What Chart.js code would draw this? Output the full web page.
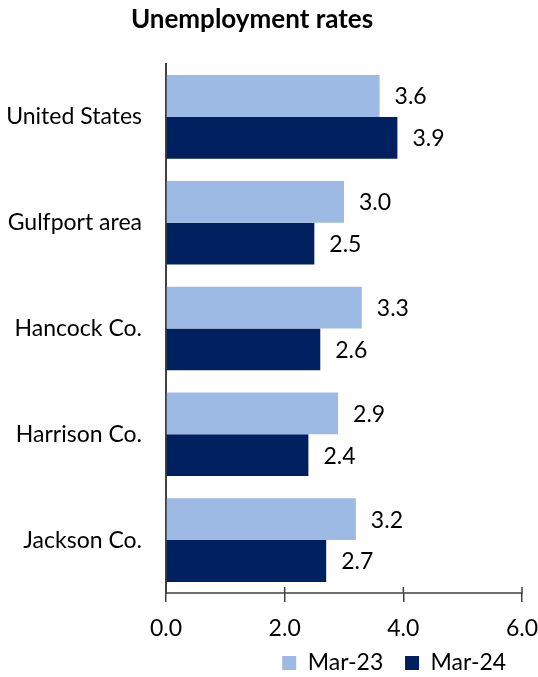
<!DOCTYPE html>
<html>
<head>
<meta charset="utf-8">
<script src="https://cdn.jsdelivr.net/npm/chart.js@4/dist/chart.umd.min.js"></script>
<style>
    html, body { margin: 0; padding: 0; background: #fff; }
    #wrap { width: 538px; height: 677px; }
</style>
</head>
<body>
<div id="wrap"><canvas id="grafica"></canvas></div>
<script>
var categorias = ["United States", "Gulfport area", "Hancock Co.", "Harrison Co.", "Jackson Co."];
var serie1Nombre = "Mar-23";
var serie2Nombre = "Mar-24";
var serie1 = [3.6, 3.0, 3.3, 2.9, 3.2];
var serie2 = [3.9, 2.5, 2.6, 2.4, 2.7];
var ticksX = [0, 2, 4, 6];

var fuente = "Lato, 'Open Sans', sans-serif";

// titulo dibujado a mano para poder moverlo un poco a la izquierda
const tituloPlugin = {
    id: "tituloPlugin",
    afterDraw(chart) {
        const ctx = chart.ctx;
        ctx.save();
        ctx.font = "bold 26px " + fuente;
        ctx.fillStyle = "#000";
        ctx.textAlign = "center";
        ctx.textBaseline = "middle";
        ctx.fillText("Unemployment rates", 252, 20);
        ctx.restore();
    }
};

// linea del eje x con marcas que cruzan la linea (el borde del eje no salia)
const ejeXPlugin = {
    id: "ejeXPlugin",
    afterDraw(chart) {
        const x = chart.scales.x;
        const ctx = chart.ctx;
        ctx.save();
        ctx.strokeStyle = "#404040";
        ctx.lineWidth = 1.5;
        ctx.beginPath();
        ctx.moveTo(x.left - 1, x.top);
        ctx.lineTo(x.right + 0.75, x.top);
        ticksX.forEach(function (v) {
            const px = x.getPixelForValue(v);
            ctx.moveTo(px, x.top - 6);
            ctx.lineTo(px, x.top);
        });
        ctx.stroke();
        ctx.restore();
    }
};

// etiquetas de valor a la derecha de cada barra
const etiquetasPlugin = {
    id: "etiquetasPlugin",
    afterDatasetsDraw(chart) {
        const ctx = chart.ctx;
        ctx.save();
        ctx.font = "23px " + fuente;
        ctx.fillStyle = "#000";
        ctx.textAlign = "left";
        ctx.textBaseline = "middle";
        chart.data.datasets.forEach(function (ds, i) {
            const meta = chart.getDatasetMeta(i);
            meta.data.forEach(function (bar, j) {
                ctx.fillText(ds.data[j].toFixed(1), bar.x + 15, bar.y + 1);
            });
        });
        ctx.restore();
    }
};

const grafica = new Chart(document.getElementById("grafica"), {
    type: "bar",
    data: {
        labels: categorias,
        datasets: [
            {
                label: serie1Nombre,
                data: serie1,
                backgroundColor: "#9dbae4",
                borderWidth: 0,
                categoryPercentage: 0.79,
                barPercentage: 1.0,
            },
            {
                label: serie2Nombre,
                data: serie2,
                backgroundColor: "#002060",
                borderWidth: 0,
                categoryPercentage: 0.79,
                barPercentage: 1.0,
            },
        ],
    },
    options: {
        indexAxis: "y",
        responsive: true,
        maintainAspectRatio: false,
        animation: false,
        layout: { padding: { top: 64, left: 0, right: 0, bottom: -7.5 } },
        plugins: {
            title: { display: false },
            tooltip: { enabled: false },
            legend: {
                position: "bottom",
                align: "end",
                fullSize: false,
                labels: {
                    boxWidth: 14,
                    boxHeight: 14,
                    padding: 10,
                    color: "#000",
                    font: { family: fuente, size: 23 },
                    // espacios al final para separar los items como en el original
                    generateLabels: function (chart) {
                        const items = Chart.defaults.plugins.legend.labels.generateLabels(chart);
                        items[0].text = items[0].text + "  ";
                        items[1].text = items[1].text + " ";
                        return items;
                    },
                },
            },
        },
        scales: {
            x: {
                min: 0,
                max: 6,
                afterBuildTicks: function (scale) {
                    scale.ticks = ticksX.map(function (v) { return { value: v }; });
                },
                afterFit: function (scale) {
                    scale.height = 48.5;
                    scale.paddingLeft = 16;
                    scale.paddingRight = 16;
                },
                grid: {
                    drawOnChartArea: false,
                    drawTicks: true,
                    tickLength: 9,
                    color: "#404040",
                    lineWidth: 1.5,
                },
                border: { display: false },
                ticks: {
                    padding: 13,
                    color: "#000",
                    font: { family: fuente, size: 23 },
                    callback: function (v) { return Number(v).toFixed(1); },
                },
            },
            y: {
                afterFit: function (scale) {
                    scale.width = 166;
                },
                grid: { display: false, tickLength: 0 },
                border: { display: true, color: "#404040", width: 2 },
                ticks: {
                    padding: 24,
                    color: "#000",
                    font: { family: fuente, size: 23 },
                },
            },
        },
    },
    plugins: [tituloPlugin, ejeXPlugin, etiquetasPlugin],
});
</script>
</body>
</html>
